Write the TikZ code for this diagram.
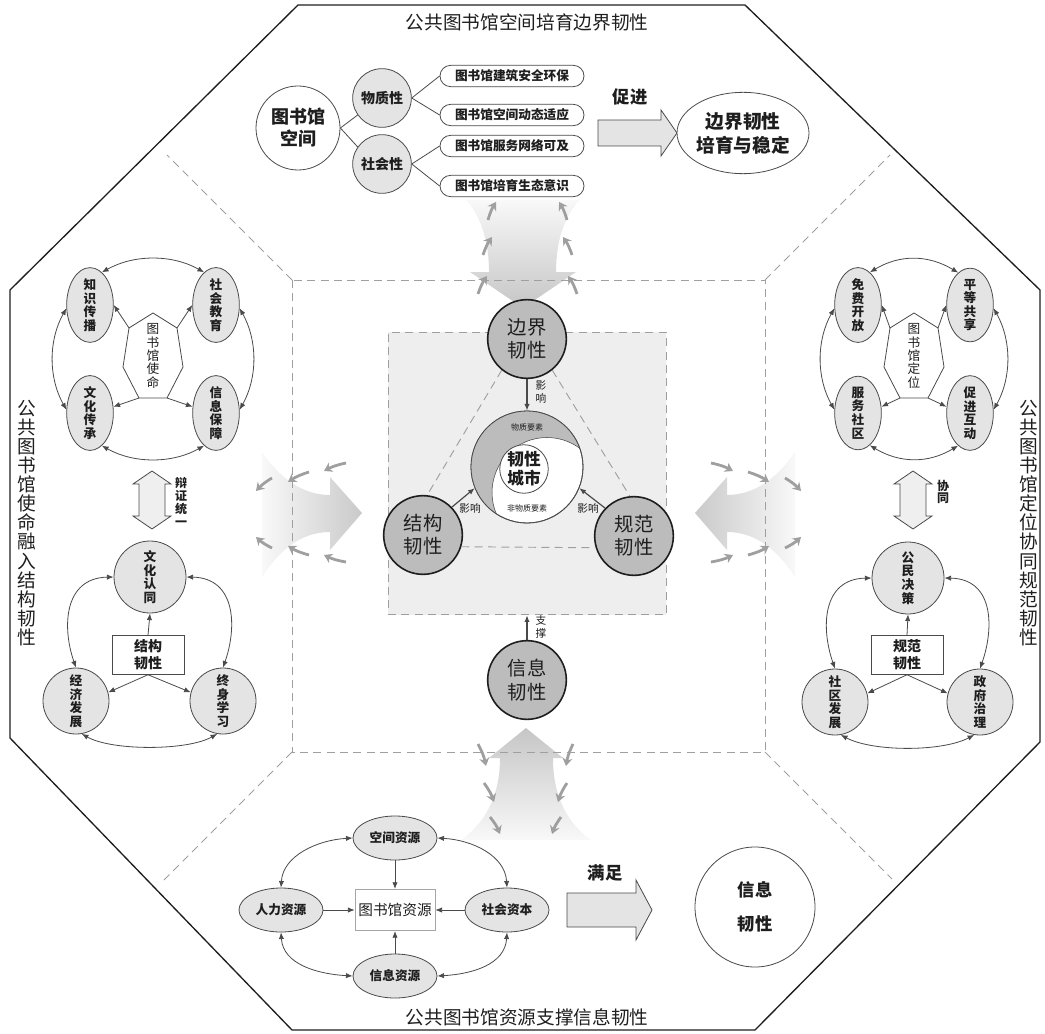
\documentclass[tikz,border=0pt]{standalone}
\usepackage{fontspec}
\setmainfont{Noto Sans CJK SC}
\usetikzlibrary{shapes.geometric,arrows.meta}
\definecolor{lg}{HTML}{E4E4E4}
\definecolor{mg}{HTML}{BCBCBC}
\definecolor{sqc}{HTML}{EEEEEE}
\definecolor{ln}{HTML}{4A4A4A}
\definecolor{dk}{HTML}{1E1E1E}
\begin{document}
\begin{tikzpicture}[x=0.75pt,y=-0.75pt,
  >={Latex[length=5pt,width=4pt]},
  every node/.style={text=dk},
  conn/.style={draw=ln, line width=0.6pt},
  arr/.style={conn,->},
  darr/.style={conn,<->},
  ell/.style={ellipse, draw=ln, fill=lg, line width=0.6pt, inner sep=0pt},
  vcirc/.style={circle, draw=ln, fill=lg, line width=0.6pt, inner sep=0pt},
  bigc/.style={circle, draw=dk, fill=mg, line width=1.2pt, minimum size=59pt, inner sep=0pt, align=center, font=\fontsize{14.5}{17.5}\selectfont},
  rbox/.style={rounded corners=8pt, draw=ln, fill=white, line width=0.6pt, minimum width=108pt, minimum height=16pt, inner sep=0pt, font=\fontsize{9.5}{11}\selectfont\bfseries},
  vt/.style={align=center, font=\fontsize{9.5}{10.2}\selectfont\bfseries},
  vtn/.style={align=center, font=\fontsize{9.5}{10}\selectfont},
  ttl/.style={font=\fontsize{14}{14}\selectfont},
  vttl/.style={align=center, font=\fontsize{14}{14.3}\selectfont},
  block/.style={draw=ln, fill=lg, line width=0.6pt},
  small/.style={draw=gray!75, line width=2.1pt, -{Stealth[length=6pt,width=7.5pt]}},
  dsh/.style={draw=gray!75, dash pattern=on 6pt off 4pt, line width=0.7pt},
  lab/.style={font=\fontsize{8}{9.5}\selectfont, align=center},
]
\useasboundingbox (0,0) rectangle (1045,1034);

% ---------- outer octagon ----------
\draw[line width=1pt, draw=dk] (298,5) -- (745,5) -- (1040,290) -- (1040,742) -- (755,1030) -- (292,1030) -- (10,738) -- (10,290) -- cycle;

% ---------- gradient arrows ----------
\shade[top color=gray!5, bottom color=gray!45] (466,200) .. controls (480,215) and (489,240) .. (489,272) -- (470,272) -- (523,308) -- (576,272) -- (556,272) .. controls (556,240) and (565,215) .. (580,200) -- cycle;
\shade[top color=gray!45, bottom color=gray!5] (526,728) -- (563,758) -- (553,758) .. controls (553,800) and (570,825) .. (591,840) -- (461,840) .. controls (482,825) and (500,800) .. (500,758) -- (489,758) -- cycle;
\shade[left color=gray!5, right color=gray!42] (262,452) .. controls (278,475) and (300,495) .. (330,495) -- (330,477) -- (362,513) -- (330,550) -- (330,532) .. controls (300,532) and (278,552) .. (262,577) -- cycle;
\shade[left color=gray!42, right color=gray!5] (795,452) .. controls (779,475) and (757,495) .. (727,495) -- (727,477) -- (695,513) -- (727,550) -- (727,532) .. controls (757,532) and (779,552) .. (795,577) -- cycle;

% ---------- dashed frame ----------
\draw[dsh] (292,280) rectangle (765,752);
\draw[dsh] (292,280) -- (167,155);
\draw[dsh] (765,280) -- (890,155);
\draw[dsh] (292,752) -- (164,880);
\draw[dsh] (765,752) -- (892,879);

% ---------- small curved arrows ----------
\draw[small] (488,220) to[bend left=8] (496,202);
\draw[small] (483,255) to[bend left=8] (492,237);
\draw[small] (478,294) to[bend left=8] (487,276);
\draw[small] (567,220) to[bend right=8] (559,202);
\draw[small] (572,255) to[bend right=8] (563,237);
\draw[small] (577,294) to[bend right=8] (568,276);
\draw[small] (478,744) to[bend left=8] (486,766);
\draw[small] (484,783) to[bend left=8] (494,802);
\draw[small] (490,817) to[bend left=8] (500,834);
\draw[small] (573,744) to[bend right=8] (566,766);
\draw[small] (567,783) to[bend right=8] (558,802);
\draw[small] (561,817) to[bend right=8] (552,834);
\draw[small] (346,463) to[bend right=8] (324,471);
\draw[small] (309,472) to[bend right=8] (288,482);
\draw[small] (272,478) to[bend right=8] (256,491);
\draw[small] (346,562) to[bend left=8] (324,555);
\draw[small] (309,555) to[bend left=8] (288,546);
\draw[small] (272,548) to[bend left=8] (256,537);
\draw[small] (711,463) to[bend left=8] (733,471);
\draw[small] (748,472) to[bend left=8] (769,482);
\draw[small] (785,478) to[bend left=8] (801,491);
\draw[small] (711,562) to[bend right=8] (733,555);
\draw[small] (748,555) to[bend right=8] (769,546);
\draw[small] (785,548) to[bend right=8] (801,537);

% ---------- titles ----------
\node[ttl] (t1) at (527,22) {公共图书馆空间培育边界韧性};
\node[ttl] (t2) at (527,1017) {公共图书馆资源支撑信息韧性};
\node[vttl] (t3) at (27,523) {公\\共\\图\\书\\馆\\使\\命\\融\\入\\结\\构\\韧\\性};
\node[vttl] (t4) at (1029,523) {公\\共\\图\\书\\馆\\定\\位\\协\\同\\规\\范\\韧\\性};

% ---------- top section ----------
\node[circle, draw=ln, fill=white, line width=0.6pt, minimum size=63pt, inner sep=0pt, align=center, font=\fontsize{13.5}{16.5}\selectfont\bfseries] (tsk) at (298,128) {图书馆\\空间};
\node[vcirc, minimum size=44pt, font=\fontsize{10.5}{12}\selectfont\bfseries] (wzx) at (382,98) {物质性};
\node[vcirc, minimum size=44pt, font=\fontsize{10.5}{12}\selectfont\bfseries] (shx) at (382,164) {社会性};
\node[rbox] (b1) at (512,76) {图书馆建筑安全环保};
\node[rbox] (b2) at (512,115) {图书馆空间动态适应};
\node[rbox] (b3) at (512,146) {图书馆服务网络可及};
\node[rbox] (b4) at (512,186) {图书馆培育生态意识};
\draw[conn] (tsk.east) -- (wzx.215);
\draw[conn] (tsk.east) -- (shx.145);
\draw[conn] (wzx.east) -- (b1.west);
\draw[conn] (wzx.east) -- (b2.west);
\draw[conn] (shx.east) -- (b3.west);
\draw[conn] (shx.east) -- (b4.west);
\node[font=\fontsize{13}{13}\selectfont\bfseries] (cjl) at (630,97) {促进};
\draw[block] (598,120) -- (661,120) -- (661,110) -- (677,133) -- (661,156) -- (661,146) -- (598,146) -- cycle;
\node[ellipse, draw=ln, fill=white, line width=0.6pt, minimum width=84pt, minimum height=61pt, inner sep=0pt, align=center, font=\fontsize{14}{18}\selectfont\bfseries] (bjpy) at (743,133) {边界韧性\\培育与稳定};

% ---------- center ----------
\node[draw=gray!75, dash pattern=on 6pt off 4pt, line width=0.7pt, fill=sqc, minimum width=208.5pt, minimum height=212pt, inner sep=0pt] (sq) at (527,473.5) {};
\node[circle, draw=ln, fill=white, line width=0.6pt, minimum size=84pt, inner sep=0pt] (city) at (527,467) {};
\begin{scope}
  \clip (527,467) circle (42pt);
  \fill[mg, even odd rule] (527,467) circle (42pt) (547,492.5) circle (41.25pt);
  \draw[ln, line width=0.4pt] (547,492.5) circle (41.25pt);
\end{scope}
\draw[ln, line width=0.6pt] (527,467) circle (42pt);
\node[circle, draw=ln, fill=white, line width=0.6pt, minimum size=36pt, inner sep=0pt, align=center, font=\fontsize{12.5}{14.5}\selectfont\bfseries] (rx) at (524,469) {韧性\\城市};
\node[font=\fontsize{6}{6}\selectfont] (wzys) at (527,427) {物质要素};
\node[font=\fontsize{6}{6}\selectfont] (fwzys) at (527,508) {非物质要素};

\node[bigc] (bj) at (527,339) {边界\\韧性};
\node[bigc] (jg) at (423,535) {结构\\韧性};
\node[bigc] (gf) at (634,536) {规范\\韧性};
\node[bigc] (xxr) at (527,680) {信息\\韧性};

\draw[dsh] (bj.231) -- (jg.84);
\draw[dsh] (bj.309) -- (gf.96);
\draw[dsh] (jg.343) -- (gf.197);

\draw[arr, line width=0.9pt] (bj.south) -- (city.north);
\node[lab] (l1) at (541,392) {影\\响};
\draw[arr, line width=0.9pt] (jg.44) -- (city.202);
\node[lab] (l2) at (470,508) {影响};
\draw[arr, line width=0.9pt] (gf.136) -- (city.338);
\node[lab] (l3) at (588,508) {影响};
\draw[arr, line width=0.9pt] (xxr.north) -- (sq.south);
\node[lab] (l4) at (541,627) {支\\撑};

% ---------- left upper ----------
\node[ell, minimum width=35pt, minimum height=51pt, vt] (zs) at (90,305) {知\\识\\传\\播};
\node[ell, minimum width=35pt, minimum height=51pt, vt] (sj) at (216,305) {社\\会\\教\\育};
\node[ell, minimum width=35pt, minimum height=51pt, vt] (wc) at (90,413) {文\\化\\传\\承};
\node[ell, minimum width=35pt, minimum height=51pt, vt] (xb) at (216,413) {信\\息\\保\\障};
\coordinate (m1) at (153,313); \coordinate (m2) at (177,328); \coordinate (m3) at (183,367);
\coordinate (m4) at (167,398); \coordinate (m5) at (139,398); \coordinate (m6) at (123,367);
\coordinate (m7) at (129,328);
\draw[conn, fill=white] (m1) -- (m2) -- (m3) -- (m4) -- (m5) -- (m6) -- (m7) -- cycle;
\node[vtn] (sm) at (153,356) {图\\书\\馆\\使\\命};
\draw[arr] (m7) -- (zs.east);
\draw[arr] (m2) -- (sj.west);
\draw[arr] (m5) -- (wc.15);
\draw[arr] (m4) -- (xb.165);
\draw[darr] (zs.70) .. controls +(32,-18) and +(-32,-18) .. (sj.110);
\draw[darr] (wc.-70) .. controls +(32,18) and +(-32,18) .. (xb.-110);
\draw[darr] (zs.188) .. controls +(-18,32) and +(-18,-32) .. (wc.172);
\draw[darr] (sj.352) .. controls +(18,32) and +(18,-32) .. (xb.8);

% double arrow left
\draw[block, fill=lg!60] (152,471) -- (171,484) -- (165,484) -- (165,516) -- (171,516) -- (152,529) -- (133,516) -- (139,516) -- (139,484) -- (133,484) -- cycle;
\node[align=center, font=\fontsize{9}{9.6}\selectfont\bfseries] (bz) at (181,502) {辩\\证\\统\\一};

% ---------- left lower ----------
\node[vcirc, minimum size=54pt, vt] (wh) at (150,577) {文\\化\\认\\同};
\node[vcirc, minimum size=49.5pt, vt] (jj) at (76,701) {经\\济\\发\\展};
\node[vcirc, minimum size=49.5pt, vt] (zx) at (223,701) {终\\身\\学\\习};
\node[draw=ln, fill=white, line width=0.6pt, minimum width=54pt, minimum height=29pt, inner sep=0pt, align=center, font=\fontsize{10.5}{12.5}\selectfont\bfseries] (jgr) at (148,655) {结构\\韧性};
\draw[arr] (jgr.north) -- (wh.south);
\draw[arr] (jgr.south) -- (jj.15);
\draw[arr] (jgr.south) -- (zx.165);
\draw[darr] (wh.west) .. controls +(-50,1) and +(-14,-40) .. (jj.north);
\draw[darr] (wh.east) .. controls +(50,1) and +(14,-40) .. (zx.north);
\draw[darr] (jj.-80) .. controls +(30,17) and +(-30,17) .. (zx.-100);

% ---------- right upper ----------
\node[ell, minimum width=35pt, minimum height=51pt, vt] (mf) at (858,305) {免\\费\\开\\放};
\node[ell, minimum width=35pt, minimum height=51pt, vt] (pd) at (970,305) {平\\等\\共\\享};
\node[ell, minimum width=35pt, minimum height=51pt, vt] (fw) at (858,413) {服\\务\\社\\区};
\node[ell, minimum width=35pt, minimum height=51pt, vt] (cjhd) at (970,413) {促\\进\\互\\动};
\coordinate (n1) at (914,313); \coordinate (n2) at (938,328); \coordinate (n3) at (944,367);
\coordinate (n4) at (928,398); \coordinate (n5) at (900,398); \coordinate (n6) at (884,367);
\coordinate (n7) at (890,328);
\draw[conn, fill=white] (n1) -- (n2) -- (n3) -- (n4) -- (n5) -- (n6) -- (n7) -- cycle;
\node[vtn] (dw) at (914,356) {图\\书\\馆\\定\\位};
\draw[arr] (n7) -- (mf.east);
\draw[arr] (n2) -- (pd.west);
\draw[arr] (n5) -- (fw.15);
\draw[arr] (n4) -- (cjhd.165);
\draw[darr] (mf.70) .. controls +(30,-18) and +(-30,-18) .. (pd.110);
\draw[darr] (fw.-70) .. controls +(30,18) and +(-30,18) .. (cjhd.-110);
\draw[darr] (mf.188) .. controls +(-18,32) and +(-18,-32) .. (fw.172);
\draw[darr] (pd.352) .. controls +(18,32) and +(18,-32) .. (cjhd.8);

% double arrow right
\draw[block, fill=lg!60] (913,471) -- (932,484) -- (926,484) -- (926,516) -- (932,516) -- (913,529) -- (894,516) -- (900,516) -- (900,484) -- (894,484) -- cycle;
\node[align=center, font=\fontsize{9}{9.6}\selectfont\bfseries] (xt) at (943,492) {协\\同};

% ---------- right lower ----------
\node[vcirc, minimum size=54pt, vt] (gm) at (908,578) {公\\民\\决\\策};
\node[vcirc, minimum size=49.5pt, vt] (sqfz) at (835,702) {社\\区\\发\\展};
\node[vcirc, minimum size=49.5pt, vt] (zfzl) at (980,702) {政\\府\\治\\理};
\node[draw=ln, fill=white, line width=0.6pt, minimum width=54pt, minimum height=29pt, inner sep=0pt, align=center, font=\fontsize{10.5}{12.5}\selectfont\bfseries] (gfr) at (907,655) {规范\\韧性};
\draw[arr] (gfr.north) -- (gm.south);
\draw[arr] (gfr.south) -- (sqfz.15);
\draw[arr] (gfr.south) -- (zfzl.165);
\draw[darr] (gm.west) .. controls +(-50,1) and +(-14,-40) .. (sqfz.north);
\draw[darr] (gm.east) .. controls +(50,1) and +(14,-40) .. (zfzl.north);
\draw[darr] (sqfz.-80) .. controls +(32,17) and +(-32,17) .. (zfzl.-100);

% ---------- bottom section ----------
\node[ell, minimum width=63pt, minimum height=33pt, font=\fontsize{9.5}{11}\selectfont\bfseries] (kj) at (395,838) {空间资源};
\node[ell, minimum width=63pt, minimum height=33pt, font=\fontsize{9.5}{11}\selectfont\bfseries] (rl) at (281,910) {人力资源};
\node[ell, minimum width=63pt, minimum height=33pt, font=\fontsize{9.5}{11}\selectfont\bfseries] (shzb) at (507,910) {社会资本};
\node[ell, minimum width=63pt, minimum height=33pt, font=\fontsize{9.5}{11}\selectfont\bfseries] (xxzy) at (395,976) {信息资源};
\node[draw=gray!70, fill=white, line width=0.6pt, minimum width=60pt, minimum height=31pt, inner sep=0pt, font=\fontsize{11}{13}\selectfont] (tsr) at (395,910) {图书馆资源};
\draw[arr] (kj.south) -- (tsr.north);
\draw[arr] (rl.east) -- (tsr.west);
\draw[arr] (shzb.west) -- (tsr.east);
\draw[arr] (xxzy.north) -- (tsr.south);
\draw[darr] (rl.north) .. controls +(2,-32) and +(-35,2) .. (kj.west);
\draw[darr] (kj.east) .. controls +(35,2) and +(-2,-32) .. (shzb.north);
\draw[darr] (rl.south) .. controls +(2,32) and +(-35,-2) .. (xxzy.west);
\draw[darr] (xxzy.east) .. controls +(35,-2) and +(-2,32) .. (shzb.south);
\node[font=\fontsize{13}{13}\selectfont\bfseries] (mz) at (605,873) {满足};
\draw[block] (567,893) -- (636,893) -- (636,880) -- (652,910) -- (636,940) -- (636,927) -- (567,927) -- cycle;
\node[circle, draw=ln, fill=white, line width=0.6pt, minimum size=90pt, inner sep=0pt, align=center, font=\fontsize{13}{26}\selectfont\bfseries] (xxb) at (755,907) {信息\\韧性};

\end{tikzpicture}
\end{document}
